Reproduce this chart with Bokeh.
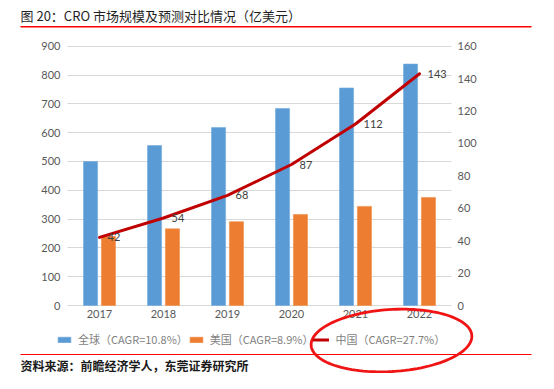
import numpy as np
from bokeh.plotting import figure
from bokeh.models import (Range1d, LinearAxis, Label, Legend, LegendItem, Grid,
                          PolyAnnotation, ColumnDataSource, FixedTicker)
from bokeh.transform import dodge
from bokeh.core.properties import value
from bokeh.embed import file_html
from bokeh.resources import INLINE

# ---------------- data ----------------
years = ["2017", "2018", "2019", "2020", "2021", "2022"]
global_vals = [500, 555, 618, 684, 755, 838]
us_vals = [240, 266, 291, 316, 344, 375]
china_vals = [42, 54, 68, 87, 112, 143]
left_ticks = [0, 100, 200, 300, 400, 500, 600, 700, 800, 900]
right_ticks = [0, 20, 40, 60, 80, 100, 120, 140, 160]
series_names = ["全球（CAGR=10.8%）", "美国（CAGR=8.9%）", "中国（CAGR=27.7%）"]
title_text = "图 20：CRO 市场规模及预测对比情况（亿美元）"
source_text = "资料来源：前瞻经济学人，东莞证券研究所"

# ---------------- layout (canvas pixels) ----------------
W, H = 538, 373
PL, PR, PT, PB = 67, 451, 45.7, 305          # plot area
n = len(years)
unit = (PR - PL) / n                         # px per category
xs = list(range(n))
x0 = -0.5 - PL / unit
x1 = (n - 0.5) + (W - PR) / unit
kL = (PB - PT) / left_ticks[-1]
kR = (PB - PT) / right_ticks[-1]
y_left = Range1d(-(H - PB) / kL, left_ticks[-1] + PT / kL)
y_right = Range1d(-(H - PB) / kR, right_ticks[-1] + PT / kR)

def cx(px):   # canvas x -> data x
    return x0 + px / unit

def cyL(py):  # canvas y -> left data y
    return (PB - py) / kL

src = ColumnDataSource(dict(x=xs, glob=global_vals, us=us_vals, cn=china_vals,
                            cn_label=[str(v) for v in china_vals]))

p = figure(width=W, height=H, x_range=Range1d(x0, x1), y_range=y_left,
           output_backend="svg", toolbar_location=None,
           min_border_left=0, min_border_right=0, min_border_top=0, min_border_bottom=0,
           outline_line_color=None, background_fill_color="white")
p.extra_y_ranges = {"cn": y_right}

# ---------------- grid ----------------
p.xgrid.visible = False
p.ygrid.ticker = FixedTicker(ticks=left_ticks)
p.ygrid.grid_line_color = "#d9d9d9"
p.ygrid.grid_line_width = 1
if "cross_bounds" in Grid.properties():
    p.ygrid.cross_bounds = (-0.5, n - 0.5)
else:
    p.ygrid.visible = False
    p.segment(x0=[-0.5] * len(left_ticks), x1=[n - 0.5] * len(left_ticks),
              y0=left_ticks, y1=left_ticks, line_color="#d9d9d9", line_width=1)

# ---------------- marks ----------------
b1 = p.vbar(x=dodge("x", -0.14), top="glob", width=0.22, source=src,
            fill_color="#5b9bd5", line_color="#74abdc", line_width=0.6)
b2 = p.vbar(x=dodge("x", 0.14), top="us", width=0.22, source=src,
            fill_color="#ed7d31", line_color="#f08f4c", line_width=0.6)
ln = p.line(x="x", y="cn", source=src, y_range_name="cn", line_color="#c00000",
            line_width=3, line_join="round", line_cap="round")
p.text(x=dodge("x", 8 / unit), y="cn", text="cn_label", source=src,
       y_range_name="cn", text_baseline="middle", text_align="left",
       text_font=value("Lato"), text_font_size="11px", text_color="#404040")

# ---------------- axes ----------------
num_font = "Lato"

def style(ax, standoff):
    ax.axis_line_color = None
    ax.major_tick_line_color = None
    ax.minor_tick_line_color = None
    ax.major_tick_out = 0
    ax.major_tick_in = 0
    ax.minor_tick_out = 0
    ax.minor_tick_in = 0
    ax.major_label_text_font = num_font
    ax.major_label_text_font_size = "11px"
    ax.major_label_text_color = "#595959"
    ax.major_label_standoff = standoff

S = -40
yax = p.yaxis[0]
yax.ticker = FixedTicker(ticks=left_ticks)
style(yax, S)
yax.fixed_location = cx(60 + S)

xax = p.xaxis[0]
xax.ticker = FixedTicker(ticks=xs)
xax.major_label_overrides = {i: y for i, y in zip(xs, years)}
style(xax, S)
xax.fixed_location = cyL(309 - S)

rax = LinearAxis(y_range_name="cn", ticker=FixedTicker(ticks=right_ticks))
style(rax, S)
rax.fixed_location = cx(457 - S)
p.add_layout(rax, "right")

# ---------------- legend ----------------
legend = Legend(items=[LegendItem(label=series_names[0], renderers=[b1]),
                       LegendItem(label=series_names[1], renderers=[b2]),
                       LegendItem(label=series_names[2], renderers=[ln])],
                orientation="horizontal", location=(56, 26),
                glyph_width=16, glyph_height=7, label_standoff=6, spacing=0,
                padding=0, margin=0, border_line_color=None, background_fill_alpha=0,
                label_text_font="Noto Sans CJK SC", label_text_font_size="11px",
                label_text_color="#7f7f7f", label_height=14)
p.add_layout(legend, "center")

# ---------------- title / source / decorations ----------------
p.add_layout(Label(x=20, y=15, x_units="canvas", y_units="canvas", text=title_text,
                   text_font="Noto Sans CJK SC", text_font_size="13px",
                   text_color="#1f1f1f", text_baseline="middle"))
p.add_layout(Label(x=20, y=365, x_units="canvas", y_units="canvas", text=source_text,
                   text_font="Noto Sans CJK SC", text_font_size="12px", text_font_style="bold",
                   text_color="#1a1a1a", text_baseline="middle"))

def hline(xa, xb, y, h):
    return PolyAnnotation(xs=[xa, xb, xb, xa], ys=[y, y, y + h, y + h],
                          xs_units="canvas", ys_units="canvas",
                          fill_color="#ff0000", fill_alpha=1, line_color=None)

p.add_layout(hline(20, 531, 25.5, 1.5))
p.add_layout(hline(20, 531, 353.5, 1))

t = np.linspace(0, 2 * np.pi, 120)
a, b, ang = 80.5, 31, np.deg2rad(-3.5)
ex = 391 + a * np.cos(t) * np.cos(ang) - b * np.sin(t) * np.sin(ang)
ey = 340 + a * np.cos(t) * np.sin(ang) + b * np.sin(t) * np.cos(ang)
p.add_layout(PolyAnnotation(xs=list(ex), ys=list(ey), xs_units="canvas", ys_units="canvas",
                            fill_alpha=0, line_color="#f01414", line_alpha=1.0,
                            line_width=2.8))

open("out.html", "w").write(file_html(p, INLINE))
